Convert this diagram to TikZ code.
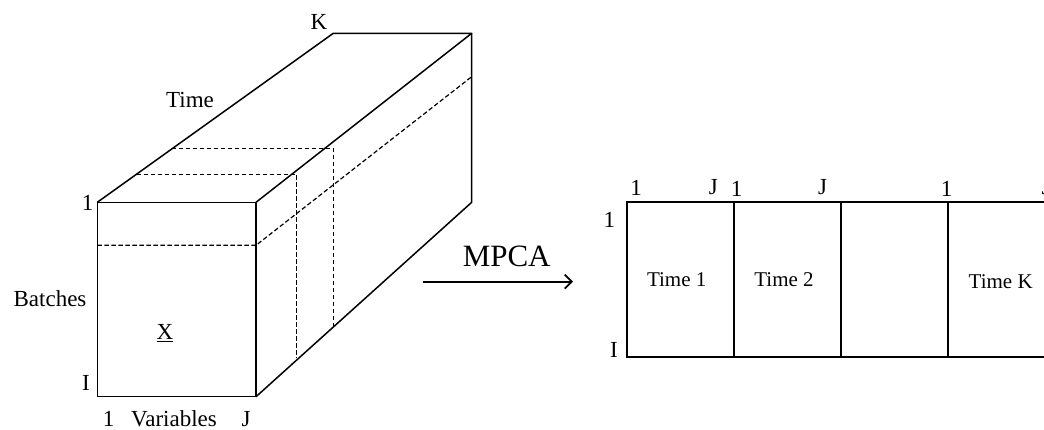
\documentclass[tikz,border=0pt]{standalone}
\usepackage{fontspec}
\setmainfont{Liberation Serif}
\usetikzlibrary{arrows.meta}
\begin{document}
\begin{tikzpicture}[x=1pt,y=-1pt,
  edge/.style={line width=1.5pt,line join=round},
  redge/.style={line width=1.8pt},
  dashln/.style={line width=1.2pt,dash pattern=on 4.5pt off 2.5pt},
  lab/.style={inner sep=0pt,font=\fontsize{23}{26}\selectfont},
  rlab/.style={inner sep=0pt,font=\fontsize{21}{24}\selectfont}]
\useasboundingbox (0,0) rectangle (1044,430);
\clip (0,0) rectangle (1044,430);
% cube corners
\coordinate (ftl) at (97.3,202.3);
\coordinate (ftr) at (256,202.3);
\coordinate (fbl) at (97.3,396.7);
\coordinate (fbr) at (256,396.7);
\coordinate (btl) at (333.3,33.3);
\coordinate (btr) at (471.7,33.3);
\coordinate (bbr) at (471.7,202.3);
\draw[edge] (ftl) rectangle (fbr);
\draw[edge] (ftl) -- (btl) -- (btr) -- (ftr);
\draw[edge] (btr) -- (bbr) -- (fbr);
% dashed slices
\draw[dashln] (97.3,245.3) -- (256,245.3) -- (471.7,76.7);
\draw[dashln] (136.7,174.3) -- (296.7,174.3) -- (296.7,358);
\draw[dashln] (171.7,148.3) -- (333.3,148.3) -- (333.3,327);
% cube labels
\node[lab] (k) at (319,22.2) {K};
\node[lab] (time) at (190,99.7) {Time};
\node[lab] (one) at (87.7,203) {1};
\node[lab] (batches) at (50,298.5) {Batches};
\node[lab] (x) at (165,333) {\underline{X}};
\node[lab] (ii) at (86,383) {I};
\node[lab] (v1) at (108.7,419) {1};
\node[lab] (vars) at (174,419) {Variables};
\node[lab] (vj) at (246,419) {J};
% arrow
\coordinate (as) at (423.3,281.7);
\coordinate (ae) at (573,281.7);
\draw[line width=1.8pt,-{Straight Barb[length=7pt,width=14pt,line width=1.8pt]}] (as) -- (ae);
\node[inner sep=0pt,font=\fontsize{31}{34}\selectfont] (mpca) at (506.7,256.7) {MPCA};
% unfolded matrix
\draw[redge] (1060,201.7) -- (627.3,201.7) -- (627.3,356.7) -- (1060,356.7);
\draw[redge] (734,201.7) -- (734,356.7);
\draw[redge] (841,201.7) -- (841,356.7);
\draw[redge] (948,201.7) -- (948,356.7);
\node[rlab] (t1) at (676.7,279.3) {Time 1};
\node[rlab] (t2) at (784,279.3) {Time 2};
\node[rlab] (tk) at (1000.7,281.8) {Time K};
\node[lab] (a1) at (636,187.5) {1};
\node[lab] (aj) at (713.3,187.5) {J};
\node[lab] (b1) at (736.7,188.5) {1};
\node[lab] (bj) at (822.7,187.5) {J};
\node[lab] (c1) at (946.7,188.5) {1};
\node[lab] (cj) at (1046,187.5) {J};
\node[lab] (r1) at (609.3,220) {1};
\node[lab] (ri) at (614,350) {I};
\end{tikzpicture}
\end{document}
